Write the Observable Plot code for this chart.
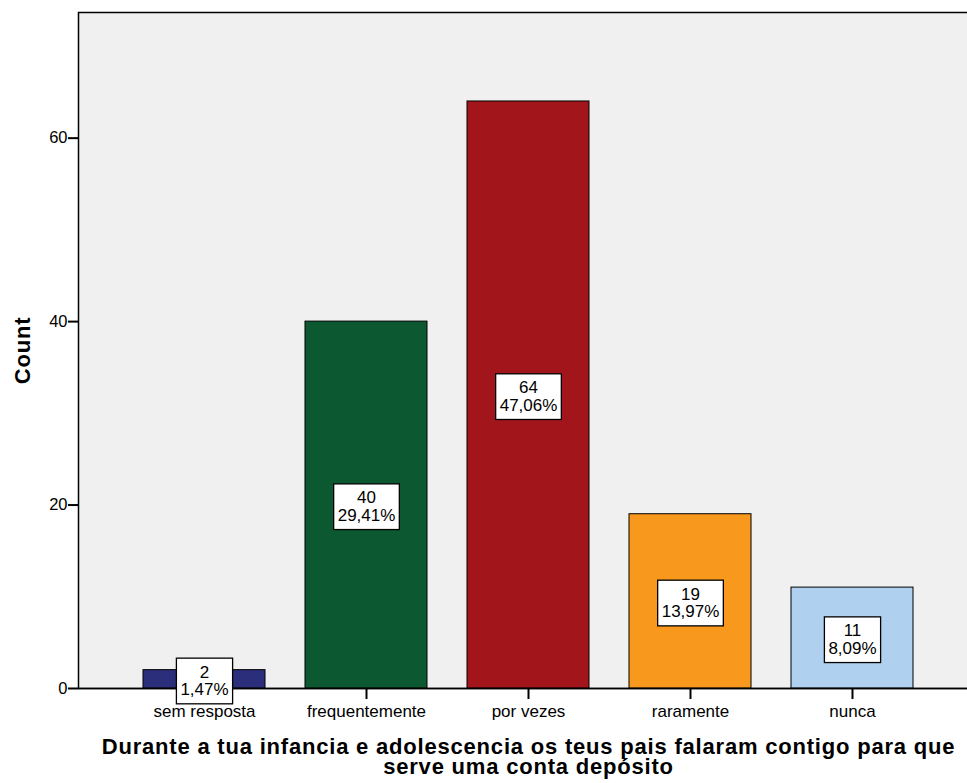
<!DOCTYPE html>
<html><head><meta charset="utf-8">
<script src="https://cdn.jsdelivr.net/npm/d3@7"></script>
<script src="https://cdn.jsdelivr.net/npm/@observablehq/plot@0.6"></script>
<style>
html,body{margin:0;padding:0;background:#fff;overflow:hidden;}
svg{overflow:hidden !important;}
</style></head><body><div id="chart"></div>
<script>
const categories = ["sem resposta","frequentemente","por vezes","raramente","nunca"];
const counts = [2, 40, 64, 19, 11];
const percents = ["1,47%","29,41%","47,06%","13,97%","8,09%"];
const colors = ["#2b2e7b","#0c5830","#a2161b","#f8991e","#afd0ee"];
const yTicks = [0, 20, 40, 60];
const xTitle = "Durante a tua infancia e adolescencia os teus pais falaram contigo para que\nserve uma conta depósito";
const yTitle = "Count";

const data = categories.map((c, i) => ({category: c, count: counts[i], pct: percents[i]}));
const font = "'Liberation Sans', Arial, sans-serif";

const chart = Plot.plot({
  width: 967, height: 783,
  marginLeft: 78, marginRight: -11, marginTop: 12, marginBottom: 95,
  style: {fontFamily: font, background: "#fff", color: "#000", overflow: "hidden"},
  x: {domain: categories, paddingInner: 0.247, paddingOuter: 0.401, label: null},
  y: {domain: [0, 73.7], ticks: yTicks, label: null},
  color: {domain: categories, range: colors},
  marks: [
    Plot.frame({fill: "#f0f0f0", stroke: "#000", strokeWidth: 1.5}),
    Plot.barY(data, {x: "category", y: "count", fill: "category", stroke: "#000", strokeWidth: 1}),
    Plot.ruleY([0], {stroke: "#000", strokeWidth: 1.3}),
    Plot.axisY({ticks: yTicks, tickSize: 10, tickPadding: 1, fontSize: 16.5, strokeWidth: 2, label: null}),
    Plot.axisX({tickSize: 11, tickPadding: 5, fontSize: 17, strokeWidth: 2, label: null}),
    Plot.text(data, {x: "category", y: d => d.count / 2, dy: 1.5, text: d => `${d.count}\n${d.pct}`, fontSize: 17, lineHeight: 1.04, fill: "#000"}),
    Plot.text([xTitle], {text: d => d, frameAnchor: "bottom", lineAnchor: "top", dy: 51.5, fontSize: 22, fontWeight: "bold", lineHeight: 0.9, fill: "#000"}),
    Plot.text([yTitle], {text: d => d, frameAnchor: "left", textAnchor: "middle", rotate: -90, dx: -56, fontSize: 22, fontWeight: "bold", fill: "#000"})
  ]
});
document.getElementById("chart").append(chart);

chart.querySelectorAll("text").forEach(t => {
  const s = t.textContent;
  if (s.startsWith("Durante")) { t.style.letterSpacing = "0.8px"; return; }
  if (s === "Count") { t.style.letterSpacing = "0.8px"; return; }
  if (!s.includes("%")) return;
  const b = t.getBBox();
  const r = document.createElementNS("http://www.w3.org/2000/svg", "rect");
  r.setAttribute("x", b.x - 4);
  r.setAttribute("y", b.y - 4.5);
  r.setAttribute("width", b.width + 8);
  r.setAttribute("height", b.height + 9);
  r.setAttribute("fill", "#fff");
  r.setAttribute("stroke", "#000");
  r.setAttribute("stroke-width", 1.3);
  const tr = t.getAttribute("transform");
  if (tr) r.setAttribute("transform", tr);
  t.parentNode.insertBefore(r, t);
});
</script></body></html>
